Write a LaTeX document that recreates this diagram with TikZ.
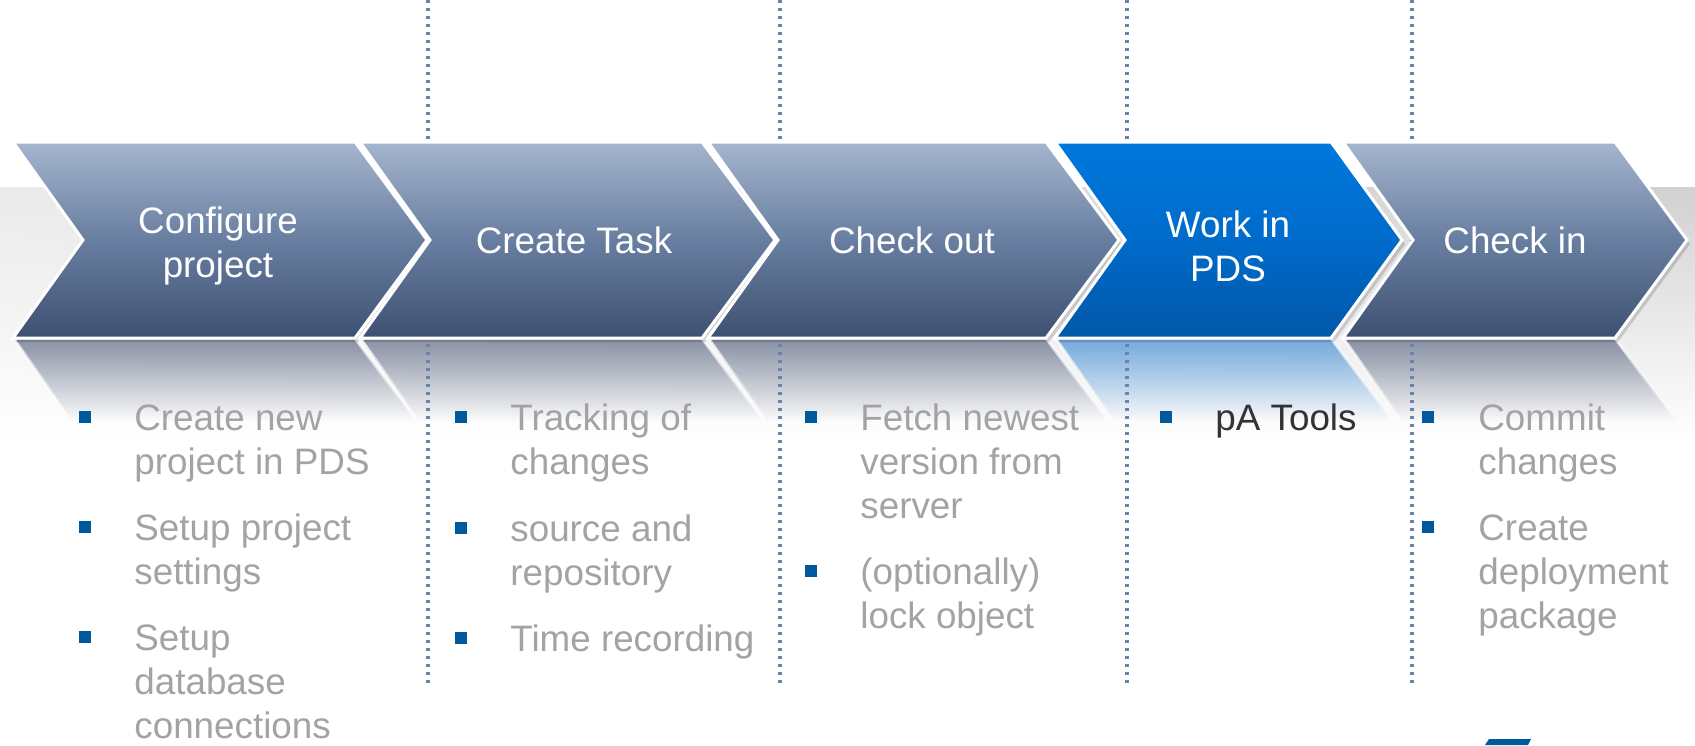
\documentclass[tikz,border=0pt]{standalone}
\usepackage{fontspec}
\setmainfont{Liberation Sans}
\usetikzlibrary{fadings}
\definecolor{chevtop}{HTML}{A5B5CE}
\definecolor{chevmid}{HTML}{687EA0}
\definecolor{chevbot}{HTML}{3E5072}
\definecolor{bluetop}{HTML}{0078DC}
\definecolor{bluemid}{HTML}{006BCB}
\definecolor{bluebot}{HTML}{0057A8}
\definecolor{dotcol}{HTML}{6A82B0}
\definecolor{bulletsq}{HTML}{00599C}
\definecolor{greytext}{HTML}{A3A3A3}
\definecolor{darktext}{HTML}{333333}
\definecolor{reflgrey}{HTML}{727D94}
\definecolor{reflblue}{HTML}{5A9BDA}
\tikzfading[name=reflfade, top color=transparent!15, middle color=transparent!75, bottom color=transparent!100]
\tikzfading[name=leftfade, left color=transparent!0, right color=transparent!100]
\newcommand\bodyfont{\fontsize{18.4}{22}\selectfont}
\tikzset{
  chevgrey/.style={top color=chevtop, bottom color=chevbot, middle color=chevmid, draw=white, line width=1.5pt, line join=miter},
  chevblue/.style={top color=bluetop, bottom color=bluebot, middle color=bluemid, draw=white, line width=1.5pt, line join=miter},
  chevshadow/.style={fill=black, opacity=0.15, shift={(3,4)}},
  reflgreystyle/.style={fill=reflgrey, draw=white, line width=1.5pt, path fading=reflfade},
  reflbluestyle/.style={fill=reflblue, draw=white, line width=1.5pt, path fading=reflfade},
  ctext/.style={font=\bodyfont, text=white, align=center, inner sep=0pt},
  btext/.style={anchor=north west, inner sep=0pt, align=left, text=greytext, font=\bodyfont},
  sq/.style={fill=bulletsq, minimum size=6pt, inner sep=0pt, outer sep=0pt},
  sepline/.style={draw=dotcol, line width=1.9pt, dash pattern=on 1.6pt off 2.4pt},
}
\begin{document}
\begin{tikzpicture}[x=0.5pt,y=-0.5pt]
\useasboundingbox (0,0) rectangle (1695,745);
% background band
\fill[top color=black!18, bottom color=white] (0,187) rectangle (1695,440);
\fill[white, opacity=0.55, path fading=leftfade] (0,187) rectangle (1695,440);
% reflections
\path[reflgreystyle] (13,338) -- (355,338) -- (415,420) -- (72,420) -- cycle;
\path[reflgreystyle] (360,338) -- (702,338) -- (762,420) -- (419,420) -- cycle;
\path[reflgreystyle] (708,338) -- (1046,338) -- (1106,420) -- (767,420) -- cycle;
\path[reflbluestyle] (1055,338) -- (1331,338) -- (1391,420) -- (1114,420) -- cycle;
\path[reflgreystyle] (1343,338) -- (1615,338) -- (1675,420) -- (1402,420) -- cycle;
% separators
\foreach \i/\x in {1/428,2/780,3/1127,4/1412}{
  \coordinate (septop\i) at (\x,0);
  \coordinate (sepbot\i) at (\x,683);
  \draw[sepline] (septop\i) -- (sepbot\i);
}
% chevrons
\fill[chevshadow] (13,142) -- (355,142) -- (427,240) -- (355,338) -- (13,338) -- (83,240) -- cycle;
\path[chevgrey] (13,142) -- (355,142) -- (427,240) -- (355,338) -- (13,338) -- (83,240) -- cycle;
\fill[chevshadow] (360,142) -- (702,142) -- (775,240) -- (702,338) -- (360,338) -- (430,240) -- cycle;
\path[chevgrey] (360,142) -- (702,142) -- (775,240) -- (702,338) -- (360,338) -- (430,240) -- cycle;
\fill[chevshadow] (708,142) -- (1046,142) -- (1119,240) -- (1046,338) -- (708,338) -- (778,240) -- cycle;
\path[chevgrey] (708,142) -- (1046,142) -- (1119,240) -- (1046,338) -- (708,338) -- (778,240) -- cycle;
\fill[chevshadow] (1055,142) -- (1331,142) -- (1402,240) -- (1331,338) -- (1055,338) -- (1125,240) -- cycle;
\path[chevblue] (1055,142) -- (1331,142) -- (1402,240) -- (1331,338) -- (1055,338) -- (1125,240) -- cycle;
\fill[chevshadow] (1343,142) -- (1615,142) -- (1687,240) -- (1615,338) -- (1343,338) -- (1413,240) -- cycle;
\path[chevgrey] (1343,142) -- (1615,142) -- (1687,240) -- (1615,338) -- (1343,338) -- (1413,240) -- cycle;
% chevron texts
\node[ctext] (c1) at (218,246) {Configure\\project};
\node[ctext] (c2) at (574,240) {Create Task};
\node[ctext] (c3) at (912,240) {Check out};
\node[ctext] (c4) at (1228,246) {Work in\\PDS};
\node[ctext] (c5) at (1515,240) {Check in};
% column 1
\node[sq] (s11) at (85,416.5) {};
\node[btext] (t11) at (134,399.2) {\strut Create new\\project in PDS};
\node[sq] (s12) at (85,526.5) {};
\node[btext] (t12) at (134,509.2) {\strut Setup project\\settings};
\node[sq] (s13) at (85,636.5) {};
\node[btext] (t13) at (134,619.2) {\strut Setup\\database\\connections};
% column 2
\node[sq] (s21) at (461,416.5) {};
\node[btext] (t21) at (510,399.2) {\strut Tracking of\\changes};
\node[sq] (s22) at (461,527.5) {};
\node[btext] (t22) at (510,510.2) {\strut source and\\repository};
\node[sq] (s23) at (461,637.5) {};
\node[btext] (t23) at (510,620.2) {\strut Time recording};
% column 3
\node[sq] (s31) at (811,416.5) {};
\node[btext] (t31) at (860,399.2) {\strut Fetch newest\\version from\\server};
\node[sq] (s32) at (811,570.5) {};
\node[btext] (t32) at (860,553.2) {\strut (optionally)\\lock object};
% column 4
\node[sq] (s41) at (1165.5,416.5) {};
\node[btext, text=darktext] (t41) at (1215,399.2) {\strut pA Tools};
% column 5
\node[sq] (s51) at (1427.5,416.5) {};
\node[btext] (t51) at (1478,399.2) {\strut Commit\\changes};
\node[sq] (s52) at (1427.5,526.5) {};
\node[btext] (t52) at (1478,509.2) {\strut Create\\deployment\\package};
% logo fragment
\fill[bulletsq] (1489,739) -- (1531,739) -- (1528,745) -- (1485,745) -- cycle;
\end{tikzpicture}
\end{document}
